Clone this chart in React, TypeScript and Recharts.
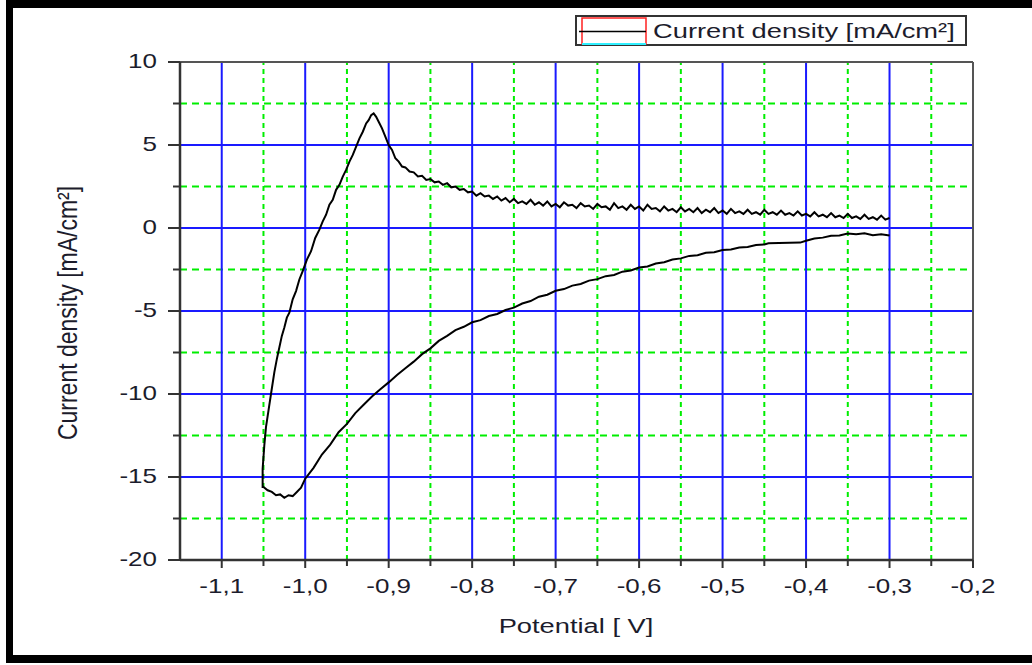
import { LineChart, Line, XAxis, YAxis, ReferenceLine } from 'recharts'

// cathodic sweep, -0.3 V down to -1.05 V
const lowerPotential = [
  -0.3, -0.31, -0.32, -0.33, -0.34, -0.35, -0.36, -0.37, -0.38, -0.39, -0.4, -0.407,
  -0.445, -0.45, -0.46, -0.47, -0.48, -0.49, -0.5, -0.51, -0.52, -0.53, -0.54, -0.55,
  -0.56, -0.57, -0.58, -0.59, -0.6, -0.61, -0.62, -0.63, -0.64, -0.65, -0.66, -0.67,
  -0.68, -0.69, -0.7, -0.71, -0.72, -0.73, -0.74, -0.75, -0.76, -0.77, -0.78, -0.79,
  -0.8, -0.81, -0.82, -0.83, -0.84, -0.85, -0.86, -0.87, -0.88, -0.89, -0.9, -0.91,
  -0.92, -0.93, -0.94, -0.95, -0.96, -0.97, -0.98, -0.99, -1.0, -1.005, -1.01, -1.015,
  -1.02, -1.025, -1.03, -1.035, -1.04, -1.045, -1.05, -1.051,
]
const lowerCurrent = [
  -0.45, -0.38, -0.44, -0.32, -0.38, -0.33, -0.45, -0.47, -0.58, -0.63, -0.77, -0.88,
  -0.92, -0.99, -1.02, -1.14, -1.17, -1.29, -1.33, -1.46, -1.49, -1.64, -1.68, -1.83,
  -1.9, -2.06, -2.14, -2.32, -2.38, -2.56, -2.63, -2.83, -2.9, -3.08, -3.17, -3.37,
  -3.47, -3.68, -3.78, -4.02, -4.14, -4.4, -4.55, -4.8, -4.94, -5.18, -5.3, -5.55,
  -5.68, -5.95, -6.15, -6.5, -6.8, -7.25, -7.6, -8.05, -8.45, -8.85, -9.3, -9.72,
  -10.15, -10.65, -11.15, -11.8, -12.3, -13.05, -13.65, -14.45, -15.1, -15.65, -15.9, -16.15,
  -16.1, -16.25, -16.05, -16.1, -15.9, -15.8, -15.6, -15.6,
]

// anodic sweep, -1.05 V back to -0.3 V
const upperPotential = [
  -1.051, -1.049, -1.047, -1.044, -1.041, -1.037, -1.034, -1.031, -1.028, -1.025, -1.022, -1.019,
  -1.015, -1.011, -1.007, -1.003, -0.998, -0.993, -0.988, -0.983, -0.979, -0.975, -0.971, -0.967,
  -0.963, -0.959, -0.955, -0.951, -0.947, -0.943, -0.939, -0.935, -0.931, -0.927, -0.924, -0.921,
  -0.918, -0.915, -0.912, -0.908, -0.904, -0.9, -0.896, -0.892, -0.888, -0.884, -0.88, -0.875,
  -0.87, -0.865, -0.86, -0.855, -0.85, -0.845, -0.84, -0.835, -0.83, -0.825, -0.82, -0.815,
  -0.81, -0.805, -0.8, -0.795, -0.79, -0.785, -0.78, -0.775, -0.77, -0.765, -0.76, -0.755,
  -0.75, -0.745, -0.74, -0.735, -0.73, -0.725, -0.72, -0.715, -0.71, -0.705, -0.7, -0.695,
  -0.69, -0.685, -0.68, -0.675, -0.67, -0.665, -0.66, -0.655, -0.65, -0.645, -0.64, -0.635,
  -0.63, -0.625, -0.62, -0.615, -0.61, -0.605, -0.6, -0.595, -0.59, -0.585, -0.58, -0.575,
  -0.57, -0.565, -0.56, -0.555, -0.55, -0.545, -0.54, -0.535, -0.53, -0.525, -0.52, -0.515,
  -0.51, -0.505, -0.5, -0.495, -0.49, -0.485, -0.48, -0.475, -0.47, -0.465, -0.46, -0.455,
  -0.45, -0.445, -0.44, -0.435, -0.43, -0.425, -0.42, -0.415, -0.41, -0.405, -0.4, -0.395,
  -0.39, -0.385, -0.38, -0.375, -0.37, -0.365, -0.36, -0.355, -0.35, -0.345, -0.34, -0.335,
  -0.33, -0.325, -0.32, -0.315, -0.31, -0.305, -0.3,
]
const upperCurrent = [
  -14.5, -13.1, -12.0, -11.0, -10.0, -8.7, -7.9, -7.2, -6.5, -6.0, -5.4, -5.1,
  -4.3, -3.8, -3.1, -2.6, -1.9, -1.4, -0.6, -0.1, 0.4, 0.8, 1.4, 1.7,
  2.3, 2.6, 3.1, 3.5, 4.0, 4.4, 4.9, 5.4, 5.8, 6.3, 6.5, 6.8,
  6.9, 6.7, 6.4, 6.0, 5.5, 5.0, 4.7, 4.2, 4.0, 3.7, 3.65, 3.4,
  3.35, 3.1, 3.15, 2.9, 2.95, 2.75, 2.8, 2.6, 2.7, 2.45, 2.5, 2.3,
  2.35, 2.15, 2.2, 1.95, 2.1, 1.9, 1.95, 1.75, 1.9, 1.65, 1.8, 1.55,
  1.75, 1.5, 1.6, 1.45, 1.7, 1.4, 1.55, 1.35, 1.6, 1.3, 1.45, 1.25,
  1.55, 1.35, 1.4, 1.2, 1.5, 1.3, 1.35, 1.15, 1.45, 1.25, 1.3, 1.1,
  1.5, 1.2, 1.3, 1.1, 1.4, 1.15, 1.3, 1.05, 1.4, 1.15, 1.2, 1.0,
  1.3, 1.05, 1.15, 0.95, 1.25, 1.0, 1.15, 0.95, 1.2, 0.9, 1.1, 0.95,
  1.2, 0.9, 1.05, 0.85, 1.15, 0.9, 1.0, 0.85, 1.1, 0.85, 0.95, 0.8,
  1.1, 0.85, 0.95, 0.8, 1.05, 0.8, 0.9, 0.75, 1.0, 0.75, 0.85, 0.7,
  0.95, 0.7, 0.8, 0.65, 0.9, 0.65, 0.75, 0.6, 0.85, 0.6, 0.7, 0.55,
  0.8, 0.55, 0.65, 0.5, 0.75, 0.5, 0.6,
]

const xMajor = [-1.1, -1.0, -0.9, -0.8, -0.7, -0.6, -0.5, -0.4, -0.3, -0.2]
const xTickLabels = ['-1,1', '-1,0', '-0,9', '-0,8', '-0,7', '-0,6', '-0,5', '-0,4', '-0,3', '-0,2']
const xMinor = [-1.05, -0.95, -0.85, -0.75, -0.65, -0.55, -0.45, -0.35, -0.25]
const yMajor = [-20, -15, -10, -5, 0, 5, 10]
const yTickLabels = ['-20', '-15', '-10', '-5', '0', '5', '10']
const yMinor = [-17.5, -12.5, -7.5, -2.5, 2.5, 7.5]

const seriesName = 'Current density [mA/cm²]'
const xTitle = 'Potential [ V]'
const yTitle = 'Current density [mA/cm²]'

const data = [
  ...lowerPotential.map((v, i) => ({ v, j: lowerCurrent[i] })),
  ...upperPotential.map((v, i) => ({ v, j: upperCurrent[i] })),
]

const FONT = '"Liberation Sans", Arial, sans-serif'
const TEXT = '#1c1c2c'
const SX = 1.3 // the original screenshot is stretched sideways

function XTick({ x, y, payload }: any) {
  const i = xMajor.indexOf(payload.value)
  const major = i >= 0
  return (
    <g>
      <line x1={x} x2={x} y1={y} y2={y + (major ? 8 : 6)} stroke="#333" strokeWidth={2} />
      {major && (
        <text transform={`translate(${x},${y + 33}) scale(${SX},1)`} textAnchor="middle"
              fontSize={20} fill={TEXT} fontFamily={FONT}>
          {xTickLabels[i]}
        </text>
      )}
    </g>
  )
}

function YTick({ x, y, payload }: any) {
  const i = yMajor.indexOf(payload.value)
  const major = i >= 0
  return (
    <g>
      <line x1={x - (major ? 12 : 7)} x2={x} y1={y} y2={y} stroke="#333" strokeWidth={2} />
      {major && (
        <text transform={`translate(${x - 23},${y + 6}) scale(${SX},1)`} textAnchor="end"
              fontSize={20} fill={TEXT} fontFamily={FONT}>
          {yTickLabels[i]}
        </text>
      )}
    </g>
  )
}

export default function App() {
  const xTicks = [...xMajor, ...xMinor].sort((a, b) => a - b)
  const yTicks = [...yMajor, ...yMinor].sort((a, b) => a - b)
  return (
    <div style={{ position: 'absolute', left: 0, top: 0, width: 1032, height: 665, background: '#fff', overflow: 'hidden' }}>
      <LineChart width={1032} height={665} data={data} margin={{ top: 62, right: 59, bottom: 75, left: 120 }}>
        <XAxis dataKey="v" type="number" domain={[-1.15, -0.2]} allowDataOverflow ticks={xTicks} interval={0}
               tickSize={0} tickMargin={0} tick={<XTick />} tickLine={false} height={30}
               axisLine={{ stroke: '#333', strokeWidth: 2.5 }} />
        <YAxis type="number" domain={[-20, 10]} allowDataOverflow ticks={yTicks} interval={0}
               tickSize={0} tickMargin={0} tick={<YTick />} tickLine={false} width={60}
               axisLine={{ stroke: '#333', strokeWidth: 2.5 }} />
        {xMinor.map((v) => (
          <ReferenceLine key={`xm${v}`} x={v} stroke="#00ee00" strokeWidth={2} strokeDasharray="5 4" />
        ))}
        {yMinor.map((v) => (
          <ReferenceLine key={`ym${v}`} y={v} stroke="#00ee00" strokeWidth={2} strokeDasharray="7 5" />
        ))}
        {xMajor.slice(0, -1).map((v) => (
          <ReferenceLine key={`xM${v}`} x={v} stroke="#1a1aff" strokeWidth={2} />
        ))}
        {yMajor.slice(1, -1).map((v) => (
          <ReferenceLine key={`yM${v}`} y={v} stroke="#1a1aff" strokeWidth={2} />
        ))}
        <ReferenceLine x={-0.2} stroke="#555" strokeWidth={2} />
        <ReferenceLine y={10} stroke="#555" strokeWidth={2} />
        <Line dataKey="j" name={seriesName} type="linear" stroke="#000" strokeWidth={2}
              dot={false} isAnimationActive={false} />
      </LineChart>

      <svg width={1032} height={665} style={{ position: 'absolute', left: 0, top: 0, pointerEvents: 'none' }}>
        <text transform={`translate(77,313) scale(1.22,1) rotate(-90)`} textAnchor="middle"
              fontSize={23} fill={TEXT} fontFamily={FONT}>
          {yTitle}
        </text>
        <text transform={`translate(576,633) scale(${SX},1)`} textAnchor="middle"
              fontSize={21} fill={TEXT} fontFamily={FONT}>
          {xTitle}
        </text>
        <rect x={576} y={16} width={390} height={29} fill="#fff" stroke="#333" strokeWidth={2} />
        <rect x={582} y={18} width={64} height={26} fill="none" stroke="#ff2020" strokeWidth={1.5} />
        <line x1={579} x2={646} y1={31.5} y2={31.5} stroke="#000" strokeWidth={1.5} />
        <line x1={582} x2={646} y1={44} y2={44} stroke="#30f0ff" strokeWidth={2} />
        <text transform={`translate(653,38) scale(${SX},1)`} fontSize={21} fill={TEXT} fontFamily={FONT}>
          {seriesName}
        </text>
      </svg>

      <div style={{ position: 'absolute', left: 6, top: 0, width: 1026, height: 663, boxSizing: 'border-box',
                    borderTop: '8px solid #000', borderLeft: '7px solid #000', borderBottom: '8px solid #000' }} />
    </div>
  )
}
